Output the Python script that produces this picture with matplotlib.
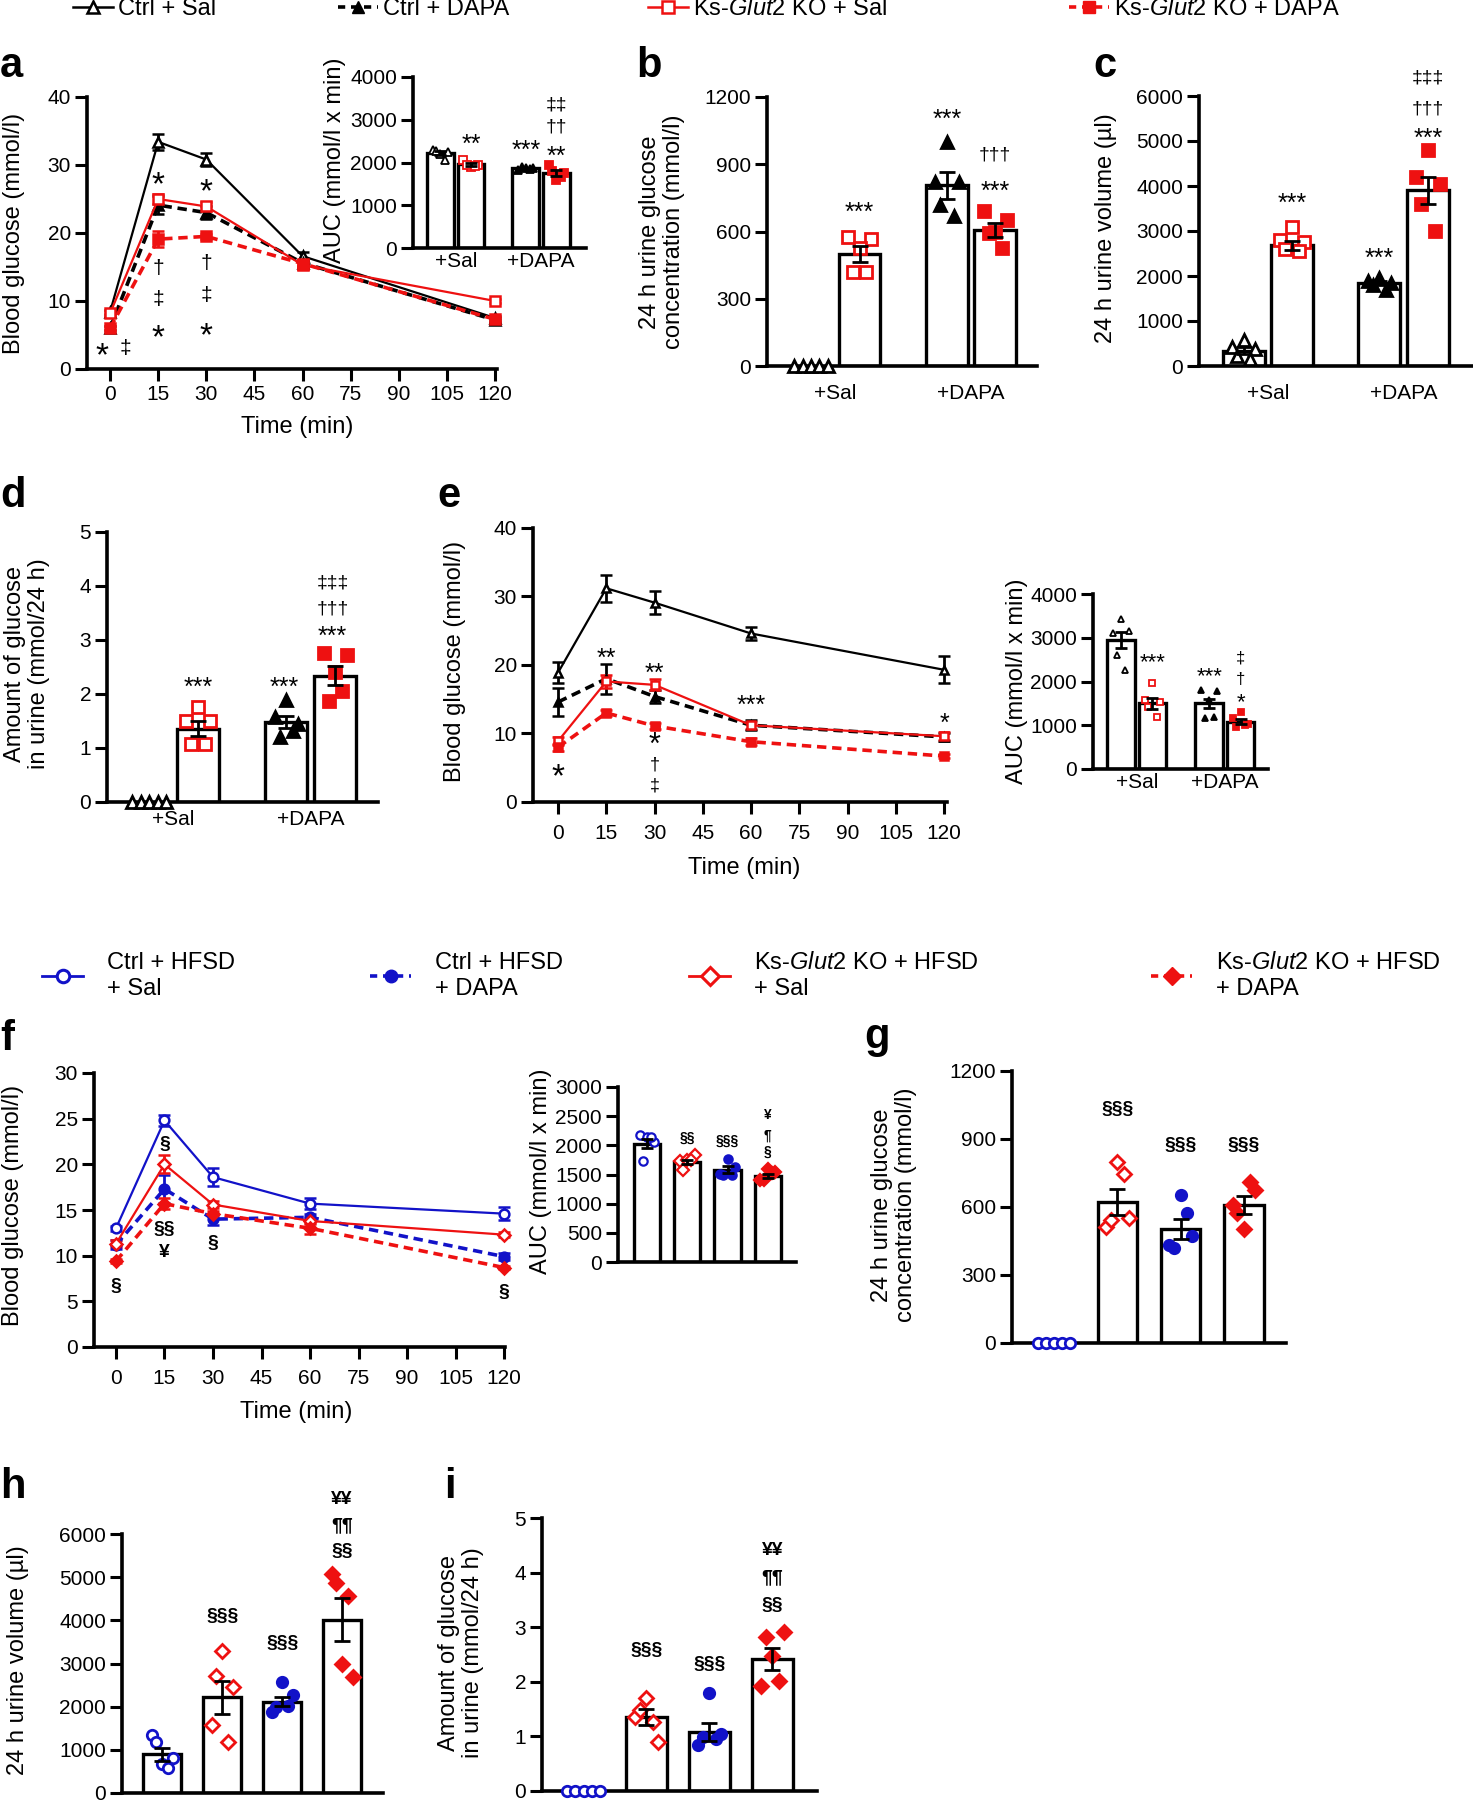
import matplotlib
matplotlib.use('Agg')
import matplotlib.pyplot as plt
from matplotlib.lines import Line2D
import numpy as np

plt.rcParams['font.family'] = ['Liberation Sans', 'DejaVu Sans']
plt.rcParams['mathtext.fontset'] = 'custom'
plt.rcParams['mathtext.rm'] = 'Liberation Sans'
plt.rcParams['mathtext.it'] = 'Liberation Sans:italic'

# ---------------- data ----------------
TIME = [0, 15, 30, 60, 120]
TIME_TICKS = [0, 15, 30, 45, 60, 75, 90, 105, 120]
GROUPS = ['+Sal', '+DAPA']

# panel a : OGTT
A_CTRL_SAL = [8.4, 33.4, 30.8, 16.6, 7.5]
A_CTRL_SAL_SEM = [0.3, 1.2, 1.0, 0.6, 0.3]
A_CTRL_DAPA = [6.0, 24.1, 23.0, 15.6, 7.2]
A_CTRL_DAPA_SEM = [0.3, 1.3, 1.0, 0.5, 0.3]
A_KO_SAL = [8.2, 25.0, 23.9, 15.3, 10.0]
A_KO_SAL_SEM = [0.3, 0.8, 0.6, 0.6, 0.3]
A_KO_DAPA = [6.0, 19.1, 19.5, 15.5, 7.3]
A_KO_DAPA_SEM = [0.3, 1.2, 0.4, 0.5, 0.3]
# panel a inset : AUC (Ctrl+Sal, KO+Sal, Ctrl+DAPA, KO+DAPA)
A_AUC_MEAN = [2230, 1960, 1860, 1750]
A_AUC_SEM = [50, 35, 20, 70]
A_AUC_PTS = [[2300, 2250, 2200, 2280, 2050], [2050, 1950, 1900, 1950, 1920],
             [1820, 1880, 1860, 1900, 1850], [1930, 1750, 1600, 1800, 1650]]

# panel b : 24 h urine glucose concentration
B_MEAN = [0, 500, 806, 606]
B_SEM = [0, 37, 60, 30]
B_PTS = [[0, 0, 0, 0, 0], [575, 565, 525, 420, 420],
         [820, 820, 1000, 720, 670], [690, 650, 600, 595, 525]]

# panel c : 24 h urine volume
C_MEAN = [340, 2680, 1850, 3910]
C_SEM = [80, 100, 50, 300]
C_PTS = [[430, 380, 580, 220, 150], [2800, 2750, 3100, 2600, 2550],
         [1900, 1850, 1950, 1800, 1700], [4200, 4050, 4800, 3600, 3000]]

# panel d : amount of glucose in urine
D_MEAN = [0, 1.36, 1.48, 2.34]
D_SEM = [0, 0.14, 0.11, 0.18]
D_PTS = [[0, 0, 0, 0, 0], [1.5, 1.5, 1.75, 1.08, 1.08],
         [1.57, 1.45, 1.88, 1.2, 1.31], [2.75, 2.73, 2.41, 1.87, 2.05]]

# panel e : OGTT (2nd)
E_CTRL_SAL = [18.9, 31.2, 29.1, 24.6, 19.3]
E_CTRL_SAL_SEM = [1.5, 2.0, 1.7, 1.0, 2.0]
E_CTRL_DAPA = [14.6, 18.0, 15.4, 11.2, 9.5]
E_CTRL_DAPA_SEM = [2.0, 2.2, 0.9, 0.7, 0.6]
E_KO_SAL = [8.9, 17.6, 17.1, 11.2, 9.6]
E_KO_SAL_SEM = [0.6, 1.0, 0.8, 0.5, 0.6]
E_KO_DAPA = [8.0, 13.0, 11.1, 8.8, 6.7]
E_KO_DAPA_SEM = [0.5, 0.4, 0.4, 0.5, 0.3]
E_AUC_MEAN = [2950, 1500, 1500, 1080]
E_AUC_SEM = [190, 120, 100, 60]
E_AUC_PTS = [[3100, 3150, 3440, 2600, 2270], [1580, 1540, 1960, 1420, 1180],
             [1800, 1780, 1580, 1160, 1180], [1160, 1040, 1310, 970, 1000]]

# panel f : OGTT, HFSD (Ctrl+Sal, Ctrl+DAPA, KO+Sal, KO+DAPA)
F_CTRL_SAL = [13.0, 24.8, 18.6, 15.7, 14.6]
F_CTRL_SAL_SEM = [0.3, 0.6, 1.0, 0.6, 0.7]
F_CTRL_DAPA = [11.2, 17.3, 14.0, 14.2, 9.9]
F_CTRL_DAPA_SEM = [0.5, 1.5, 0.6, 0.4, 0.4]
F_KO_SAL = [11.3, 20.0, 15.6, 13.8, 12.3]
F_KO_SAL_SEM = [0.4, 1.0, 0.4, 0.3, 0.3]
F_KO_DAPA = [9.4, 15.7, 14.6, 13.0, 8.7]
F_KO_DAPA_SEM = [0.2, 0.6, 0.3, 0.6, 0.2]
# f inset AUC (Ctrl+Sal, KO+Sal, Ctrl+DAPA, KO+DAPA)
F_AUC_MEAN = [2030, 1714, 1583, 1474]
F_AUC_SEM = [80, 30, 60, 40]
F_AUC_PTS = [[2180, 2060, 2150, 1740, 2150], [1740, 1829, 1743, 1583, 1743],
             [1514, 1629, 1771, 1486, 1486], [1411, 1543, 1600, 1411, 1526]]

# panel g : urine glucose concentration, HFSD
G_MEAN = [0, 623, 503, 609]
G_SEM = [0, 58, 45, 38]
G_PTS = [[0, 0, 0, 0, 0], [513, 553, 797, 543, 744],
         [433, 472, 653, 418, 572], [611, 675, 503, 575, 711]]

# panel h : urine volume, HFSD
H_MEAN = [902, 2213, 2113, 4010]
H_SEM = [150, 390, 100, 500]
H_PTS = [[1350, 810, 679, 1172, 578], [1581, 2445, 3278, 2715, 1180],
         [1866, 2275, 2583, 1990, 2005], [5067, 2684, 2992, 4874, 4565]]

# panel i : amount of glucose in urine, HFSD
I_MEAN = [0, 1.36, 1.08, 2.41]
I_SEM = [0, 0.15, 0.16, 0.2]
I_PTS = [[0, 0, 0, 0, 0], [1.35, 0.89, 1.71, 1.49, 1.27],
         [0.84, 1.05, 1.8, 0.99, 0.96], [1.92, 2.92, 2.47, 2.82, 2.02]]

# ---------------- styles ----------------
RED = '#EE1111'
BLUE = '#1212C8'
BLK = 'black'
W, H = 1473, 1800
fig = plt.figure(figsize=(W / 100, H / 100), dpi=100)

TICK_FS = 15
LAB_FS = 17
STAR_FS = 18
SPREAD = [-0.28, 0.28, 0.0, -0.16, 0.16]
ZERO_SPREAD = [-0.4, -0.2, 0.0, 0.2, 0.4]


def add_ax(l, t, r, b):
    return fig.add_axes([l / W, 1 - b / H, (r - l) / W, (b - t) / H])


def style(ax, ymax, ystep, xlim):
    for s in ['top', 'right']:
        ax.spines[s].set_visible(False)
    for s in ['left', 'bottom']:
        ax.spines[s].set_linewidth(2.6)
    ax.set_ylim(0, ymax)
    ax.set_yticks(np.arange(0, ymax + ystep / 2, ystep))
    ax.set_xlim(*xlim)
    ax.tick_params(width=2.2, length=8.5, labelsize=TICK_FS, pad=3)
    ax.patch.set_alpha(0)


def line_plot(ax, series):
    for y, e, col, dashed, mk, filled, ms in series:
        ax.errorbar(TIME, y, yerr=e, color=col, lw=2.6 if dashed else 1.6,
                    ls=(0, (2.6, 1.6)) if dashed else '-', marker=mk, ms=ms,
                    mfc=col if filled else 'white', mec=col, mew=1.8,
                    ecolor=col, elinewidth=2.0, capsize=4, capthick=2.0,
                    clip_on=False, zorder=3)
    ax.set_xticks(TIME_TICKS)


def bar_plot(ax, pos, width, means, sems, pts, styles, ms, cap, mew=2.0):
    for p, m, s, ys, (col, mk, filled) in zip(pos, means, sems, pts, styles):
        if m > 0:
            ax.bar(p, m, width, color='white', edgecolor='black', linewidth=2.4, zorder=2)
            xs = p + np.array(SPREAD[:len(ys)]) * width
        else:
            xs = p + np.array(ZERO_SPREAD[:len(ys)]) * width
        ax.plot(xs, ys, ls='none', marker=mk, ms=ms, mfc=col if filled else 'white',
                mec=col, mew=mew, zorder=3, clip_on=False)
        if m > 0:
            ax.errorbar(p, m, yerr=s, fmt='none', ecolor='black', elinewidth=2.0,
                        capsize=cap, capthick=2.0, zorder=4)


def annot(ax, x, y, s, fs=15, bold=False, color='black'):
    # asterisks sit high in the em box: nudge them down so the glyph is centred
    dy = -0.28 * fs if set(s) == {'*'} else 0
    ax.annotate(s, (x, y), xytext=(0, dy), textcoords='offset points',
                ha='center', va='center', fontsize=fs,
                fontweight='bold' if bold else 'normal', color=color,
                annotation_clip=False, zorder=5)


def ylab(x, y, s):
    fig.text(x / W, 1 - y / H, s, rotation=90, ha='center', va='center',
             multialignment='center', fontsize=LAB_FS, linespacing=1.1)


def xlab(x, y, s):
    fig.text(x / W, 1 - y / H, s, ha='center', va='center', fontsize=LAB_FS)


def letter(x, y, s):
    fig.text(x / W, 1 - y / H, s, ha='left', va='baseline', fontsize=30, fontweight='bold')


def group_labels(ax, pos, pad):
    ax.set_xticks([(pos[0] + pos[1]) / 2, (pos[2] + pos[3]) / 2])
    ax.set_xticklabels(GROUPS)
    ax.tick_params(axis='x', length=0, pad=pad)


def no_xticks(ax):
    ax.set_xticks([])


ST_A = [(BLK, '^', False), (RED, 's', False), (BLK, '^', True), (RED, 's', True)]
ST_F = [(BLUE, 'o', False), (RED, 'D', False), (BLUE, 'o', True), (RED, 'D', True)]
POS_A = [0, 1, 2.8, 3.8]
POS_F = [0, 1, 2, 3]

# ---------------- top legend ----------------
top_handles = [
    (Line2D([], [], color=BLK, lw=1.8, marker='^', ms=8, mfc='white', mew=1.8), 'Ctrl + Sal', 73),
    (Line2D([], [], color=BLK, lw=2.6, ls=(0, (2.0, 1.6)), marker='^', ms=8, mfc=BLK), 'Ctrl + DAPA', 338),
    (Line2D([], [], color=RED, lw=1.8, marker='s', ms=8, mfc='white', mew=1.8), 'Ks-$\\mathit{Glut2}$ KO + Sal', 648),
    (Line2D([], [], color=RED, lw=2.6, ls=(0, (2.0, 1.6)), marker='s', ms=8, mfc=RED), 'Ks-$\\mathit{Glut2}$ KO + DAPA', 1069),
]
for h, lab, x in top_handles:
    fig.legend([h], [lab], loc='center left', bbox_to_anchor=(x / W, 1 - 9 / H),
               frameon=False, fontsize=17, handlelength=1.7, handletextpad=0.2,
               borderpad=0, borderaxespad=0)

bot_handles = [
    (Line2D([], [], color=BLUE, lw=2.0, marker='o', ms=9, mfc='white', mew=2.2), 'Ctrl + HFSD\n+ Sal', 42),
    (Line2D([], [], color=BLUE, lw=2.6, ls=(0, (2.0, 1.6)), marker='o', ms=9, mfc=BLUE), 'Ctrl + HFSD\n+ DAPA', 370),
    (Line2D([], [], color=RED, lw=2.0, marker='D', ms=9, mfc='white', mew=2.2), 'Ks-$\\mathit{Glut2}$ KO + HFSD\n+ Sal', 689),
    (Line2D([], [], color=RED, lw=2.6, ls=(0, (2.0, 1.6)), marker='D', ms=9, mfc=RED), 'Ks-$\\mathit{Glut2}$ KO + HFSD\n+ DAPA', 1151),
]
for h, lab, x in bot_handles:
    fig.legend([h], [lab], loc='center left', bbox_to_anchor=(x / W, 1 - 976 / H),
               frameon=False, fontsize=17, handlelength=1.75, handletextpad=1.0,
               borderpad=0, borderaxespad=0)

# ---------------- panel a ----------------
ax = add_ax(87, 97, 497, 369)
style(ax, 40, 10, (-7.2, 120.6))
line_plot(ax, [
    (A_CTRL_SAL, A_CTRL_SAL_SEM, BLK, False, '^', False, 7),
    (A_CTRL_DAPA, A_CTRL_DAPA_SEM, BLK, True, '^', True, 7),
    (A_KO_SAL, A_KO_SAL_SEM, RED, False, 's', False, 7),
    (A_KO_DAPA, A_KO_DAPA_SEM, RED, True, 's', True, 7),
])
for x, y, s, fs in [(15, 28.3, '*', 24), (30, 27.3, '*', 24), (15, 14.8, '†', 15), (15, 10.2, '‡', 15),
                    (15, 5.8, '*', 24), (30, 15.5, '†', 15), (30, 10.8, '‡', 15), (30, 6.1, '*', 24),
                    (-2.5, 3.2, '*', 24), (4.8, 3.0, '‡', 15)]:
    annot(ax, x, y, s, fs)
letter(0, 77, 'a')
ylab(14, 233, 'Blood glucose (mmol/l)')
xlab(297, 427, 'Time (min)')

ax = add_ax(413, 77, 586, 248)
style(ax, 4000, 1000, (-0.9, 4.77))
bar_plot(ax, POS_A, 0.88, A_AUC_MEAN, A_AUC_SEM, A_AUC_PTS, ST_A, 5.5, 4, mew=1.3)
group_labels(ax, POS_A, 3)
for x, y, s, fs in [(1, 2573, '**', STAR_FS), (2.8, 2432, '***', STAR_FS), (3.8, 2292, '**', STAR_FS),
                    (3.8, 2830, '††', 14), (3.8, 3345, '‡‡', 14)]:
    annot(ax, x, y, s, fs)
ylab(335, 160, 'AUC (mmol/l x min)')

# ---------------- panel b ----------------
ax = add_ax(767, 97, 1037, 366)
style(ax, 1200, 300, (-0.91, 4.66))
bar_plot(ax, POS_A, 0.86, B_MEAN, B_SEM, B_PTS, ST_A, 8, 6)
group_labels(ax, POS_A, 13)
for x, y, s, fs in [(1, 713, '***', STAR_FS), (2.8, 1129, '***', STAR_FS), (3.8, 806, '***', STAR_FS),
                    (3.8, 940, '†††', 14)]:
    annot(ax, x, y, s, fs)
letter(636, 77, 'b')
ylab(662, 232, '24 h urine glucose\nconcentration (mmol/l)')

# ---------------- panel c ----------------
ax = add_ax(1199, 96, 1473, 366)
style(ax, 6000, 1000, (-0.92, 4.73))
bar_plot(ax, POS_A, 0.87, C_MEAN, C_SEM, C_PTS, ST_A, 8, 6)
group_labels(ax, POS_A, 13)
for x, y, s, fs in [(1, 3758, '***', STAR_FS), (2.8, 2537, '***', STAR_FS), (3.8, 5200, '***', STAR_FS),
                    (3.8, 5719, '†††', 14), (3.8, 6407, '‡‡‡', 14)]:
    annot(ax, x, y, s, fs)
letter(1093, 77, 'c')
ylab(1106, 228, '24 h urine volume (µl)')

# ---------------- panel d ----------------
ax = add_ax(107, 532, 378, 802)
style(ax, 5, 1, (-0.86, 4.67))
bar_plot(ax, POS_A, 0.86, D_MEAN, D_SEM, D_PTS, ST_A, 8, 6)
group_labels(ax, POS_A, 6)
for x, y, s, fs in [(1, 2.24, '***', STAR_FS), (2.76, 2.24, '***', STAR_FS), (3.74, 3.18, '***', STAR_FS),
                    (3.74, 3.58, '†††', 14), (3.74, 4.06, '‡‡‡', 14)]:
    annot(ax, x, y, s, fs)
letter(0, 507, 'd')
ylab(27, 664, 'Amount of glucose\nin urine (mmol/24 h)')

# ---------------- panel e ----------------
ax = add_ax(533, 528, 947, 802)
style(ax, 40, 10, (-7.8, 120.9))
ax.tick_params(axis='x', pad=7)
line_plot(ax, [
    (E_CTRL_SAL, E_CTRL_SAL_SEM, BLK, False, '^', False, 6),
    (E_CTRL_DAPA, E_CTRL_DAPA_SEM, BLK, True, '^', True, 6),
    (E_KO_SAL, E_KO_SAL_SEM, RED, False, 's', False, 6),
    (E_KO_DAPA, E_KO_DAPA_SEM, RED, True, 's', True, 6),
])
for x, y, s, fs in [(15, 21.9, '**', STAR_FS), (30, 19.8, '**', STAR_FS), (60, 15.1, '***', STAR_FS),
                    (120, 12.4, '*', STAR_FS), (0, 4.9, '*', 24), (30, 9.4, '*', 22),
                    (30, 5.4, '†', 13), (30, 2.3, '‡', 13)]:
    annot(ax, x, y, s, fs)
letter(437, 507, 'e')
ylab(455, 661, 'Blood glucose (mmol/l)')
xlab(744, 868, 'Time (min)')

ax = add_ax(1093, 594, 1268, 769)
style(ax, 4000, 1000, (-0.89, 4.67))
bar_plot(ax, POS_A, 0.88, E_AUC_MEAN, E_AUC_SEM, E_AUC_PTS, ST_A, 5, 4, mew=1.3)
group_labels(ax, POS_A, 3)
for x, y, s, fs in [(1, 2568, '***', 16), (2.8, 2263, '***', 16), (3.8, 1653, '*', 16),
                    (3.8, 2050, '†', 12), (3.8, 2530, '‡', 12)]:
    annot(ax, x, y, s, fs)
ylab(1017, 681, 'AUC (mmol/l x min)')

# ---------------- panel f ----------------
ax = add_ax(94, 1073, 505, 1347)
style(ax, 30, 5, (-6.8, 120.3))
ax.tick_params(axis='x', pad=7)
line_plot(ax, [
    (F_CTRL_SAL, F_CTRL_SAL_SEM, BLUE, False, 'o', False, 7),
    (F_CTRL_DAPA, F_CTRL_DAPA_SEM, BLUE, True, 'o', True, 7),
    (F_KO_SAL, F_KO_SAL_SEM, RED, False, 'D', False, 6),
    (F_KO_DAPA, F_KO_DAPA_SEM, RED, True, 'D', True, 6),
])
for x, y, s in [(15, 22.2, '§'), (15, 12.9, '§§'), (15, 10.4, '¥'), (30, 11.3, '§'), (0, 6.6, '§'), (120, 6.0, '§')]:
    annot(ax, x, y, s, 14, bold=True)
letter(0, 1050, 'f')
ylab(13, 1205, 'Blood glucose (mmol/l)')
xlab(296, 1412, 'Time (min)')

ax = add_ax(618, 1087, 796, 1262)
style(ax, 3000, 500, (-0.72, 3.7))
bar_plot(ax, POS_F, 0.65, F_AUC_MEAN, F_AUC_SEM, F_AUC_PTS, ST_F, 6, 4, mew=1.6)
no_xticks(ax)
for x, y, s in [(1, 2131, '§§'), (2, 2086, '§§§'), (3, 1886, '§'), (3, 2171, '¶'), (3, 2514, '¥')]:
    annot(ax, x, y, s, 10, bold=True)
ylab(541, 1171, 'AUC (mmol/l x min)')

# ---------------- panel g ----------------
ax = add_ax(1012, 1071, 1286, 1343)
style(ax, 1200, 300, (-0.67, 3.67))
bar_plot(ax, POS_F, 0.63, G_MEAN, G_SEM, G_PTS, ST_F, 7.5, 6)
no_xticks(ax)
for x, y, s in [(1, 1030, '§§§'), (2, 873, '§§§'), (3, 873, '§§§')]:
    annot(ax, x, y, s, 14, bold=True)
letter(864, 1048, 'g')
ylab(894, 1205, '24 h urine glucose\nconcentration (mmol/l)')

# ---------------- panel h ----------------
ax = add_ax(122, 1534, 383, 1793)
style(ax, 6000, 1000, (-0.67, 3.68))
bar_plot(ax, POS_F, 0.63, H_MEAN, H_SEM, H_PTS, ST_F, 7.5, 6)
no_xticks(ax)
for x, y, s in [(1, 4087, '§§§'), (2, 3470, '§§§'), (3, 5591, '§§'), (3, 6185, '¶¶'), (3, 6802, '¥¥')]:
    annot(ax, x, y, s, 14, bold=True)
letter(0, 1498, 'h')
ylab(18, 1660, '24 h urine volume (µl)')

# ---------------- panel i ----------------
ax = add_ax(542, 1518, 817, 1791)
style(ax, 5, 1, (-0.66, 3.71))
bar_plot(ax, POS_F, 0.65, I_MEAN, I_SEM, I_PTS, ST_F, 7.5, 6)
no_xticks(ax)
for x, y, s in [(1, 2.58, '§§§'), (2, 2.32, '§§§'), (3, 3.4, '§§'), (3, 3.9, '¶¶'), (3, 4.41, '¥¥')]:
    annot(ax, x, y, s, 14, bold=True)
letter(444, 1498, 'i')
ylab(461, 1653, 'Amount of glucose\nin urine (mmol/24 h)')

fig.savefig('out.png', dpi=100)
